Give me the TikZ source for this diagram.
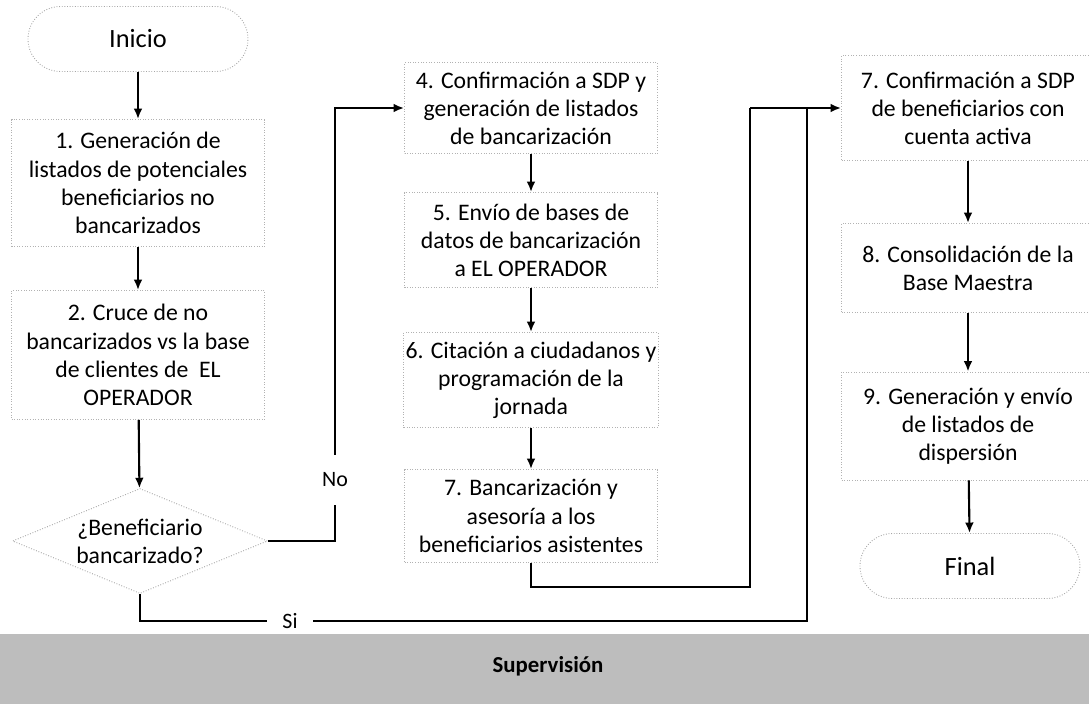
\documentclass[tikz,border=0pt]{standalone}
\usepackage{fontspec}
\setmainfont{Carlito}
\usetikzlibrary{shapes.geometric,arrows.meta}

\tikzset{
  stepbox/.style={draw=gray!60, densely dotted, line width=0.5pt, align=center,
    minimum width=5.06cm, inner sep=1pt, font=\fontsize{13.5}{16}\selectfont},
  endbox/.style={draw=gray!70, densely dotted, line width=0.5pt, rounded corners=0.65cm,
    minimum width=4.4cm, minimum height=1.3cm, font=\fontsize{15}{18}\selectfont},
  decision/.style={diamond, aspect=2.4, draw=gray!70, densely dotted, line width=0.5pt, align=center,
    minimum width=5.1cm, minimum height=2.1cm, inner xsep=-0.3cm, inner ysep=-0.1cm,
    font=\fontsize{13.5}{16}\selectfont},
  flow/.style={line width=1.2pt, -{Latex[length=6pt,width=5pt]}},
  link/.style={line width=1.2pt},
  lbl/.style={fill=white, inner xsep=3pt, inner ysep=10pt, font=\fontsize{12.5}{15}\selectfont}
}

\begin{document}
\begin{tikzpicture}[x=0.02cm, y=-0.02cm]
    \useasboundingbox (0,0) rectangle (1089,704);
    % band
    \fill[black!26] (0,634) rectangle (1089,704);
    \node[font=\fontsize{13}{15}\selectfont\bfseries] (sup) at (548,666) {Supervisión};

    % left column
    \node[endbox] (inicio) at (138,39) {Inicio};
    \node[stepbox, minimum height=2.54cm] (b1) at (138,183) {1. Generación de\\listados de potenciales\\beneficiarios no\\bancarizados};
    \node[stepbox, minimum height=2.58cm] (b2) at (138,355) {2. Cruce de no\\bancarizados vs la base\\de clientes de~ EL\\OPERADOR};
    \node[decision] (dia) at (140,541) {¿Beneficiario\\bancarizado?};

    % middle column
    \node[stepbox, minimum height=1.82cm] (b4) at (531,108) {4. Confirmación a SDP y\\generación de listados\\de bancarización};
    \node[stepbox, minimum height=1.9cm] (b5) at (531,240) {5. Envío de bases de\\datos de bancarización\\a EL OPERADOR};
    \node[stepbox, minimum height=1.9cm] (b6) at (531,380) {6. Citación a ciudadanos y\\programación de la\\jornada};
    \node[stepbox, minimum height=1.86cm] (b7b) at (531,516) {7. Bancarización y\\asesoría a los\\beneficiarios asistentes};

    % right column
    \node[stepbox, minimum height=2.1cm] (b7) at (968,108) {7. Confirmación a SDP\\de beneficiarios con\\cuenta activa};
    \node[stepbox, minimum height=1.78cm] (b8) at (968,268) {8. Consolidación de la\\Base Maestra};
    \node[stepbox, minimum height=2.16cm] (b9) at (968,426) {9. Generación y envío\\de listados de\\dispersión};
    \node[endbox] (final) at (970,566) {Final};

    \coordinate (j1) at (750,108);
    \coordinate (j2) at (807,108);
    \coordinate (nocorner) at (335,541);
    \coordinate (sibot) at (807,621);
    \coordinate (bbot) at (750,587);

    \draw[flow] (inicio) -- (b1);
    \draw[flow] (b1) -- (b2);
    \draw[flow] (b2) -- (dia);
    \draw[flow] (b4) -- (b5);
    \draw[flow] (b5) -- (b6);
    \draw[flow] (b6) -- (b7b);
    \draw[flow] (b7) -- (b8);
    \draw[flow] (b8) -- (b9);
    \draw[flow] (b9) -- (final);

    % no / si branches
    \draw[flow] (dia.east) -- (nocorner) |- (b4.west);
    \node[lbl] (nolbl) at (335,480) {No};
    \draw[link] (dia.south) |- (sibot) -- (j2);
    \node[lbl, inner ysep=2pt, inner xsep=9pt] (silbl) at (290,621) {Si};
    \draw[link] (b7b.south) |- (bbot) -- (j1);
    \draw[flow] (j1) -- (b7.west);
\end{tikzpicture}
\end{document}
